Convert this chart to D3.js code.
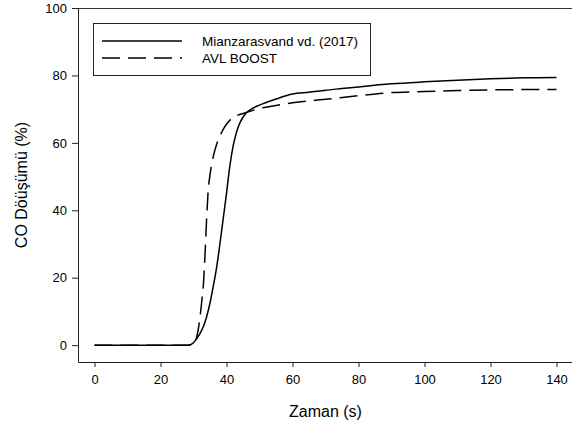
<!DOCTYPE html>
<meta charset='utf-8'>
<style>
	body { margin: 0; background: #fff; }
	#container { width: 572px; height: 428px; }
	text { font-family: 'Liberation Sans', Arial, sans-serif; fill: #000; }
</style>
<body>
	<div id='container'>
	</div>
<script src='https://d3js.org/d3.v7.min.js'></script>
<script>
	// Zaman (s)
	const mianTime = [ 0, 28.5, 30, 31, 32, 33, 34, 35, 36, 37, 38, 39, 40, 41, 42, 43, 44, 45, 46, 48, 50, 55, 60, 65, 70, 75, 80, 90, 100, 110, 120, 130, 140 ];
	// CO conversion (%)
	const mianValue = [ 0, 0, 0.7, 2, 3.5, 5.5, 8.5, 12.5, 17.5, 23, 30, 37.5, 45, 53, 59, 63, 65.8, 67.6, 68.9, 70.3, 71.2, 73, 74.5, 75, 75.6, 76.1, 76.6, 77.5, 78.1, 78.6, 79, 79.3, 79.4 ];

	const avlTime = [ 0, 28.5, 30, 31, 32, 32.5, 33, 33.5, 34, 34.5, 35, 36, 37, 38, 39, 40, 42, 44, 46, 50, 55, 60, 70, 80, 90, 100, 110, 120, 130, 140 ];
	const avlValue = [ 0, 0, 0.3, 2.5, 8.5, 13, 18, 27, 38, 46.5, 50.5, 56, 59.5, 62, 64, 65.5, 67.6, 68.4, 69, 70.2, 71.1, 71.9, 72.9, 74, 74.9, 75.2, 75.5, 75.7, 75.8, 75.8 ];

	const seriesNames = [ 'Mianzarasvand vd. (2017)', 'AVL BOOST' ];
	const xTicks = [ 0, 20, 40, 60, 80, 100, 120, 140 ];
	const yTicks = [ 0, 20, 40, 60, 80, 100 ];

	const W = 572, H = 428;
	const plot = { left: 78, right: 573, top: 8, bottom: 362 };

	let xScale = d3.scaleLinear()
		.domain( [-5, 145] )
		.range( [plot.left, plot.right] );
	let yScale = d3.scaleLinear()
		.domain( [-5, 100] )
		.range( [plot.bottom, plot.top] );

	let svg = d3.select( '#container' )
		.append( 'svg' )
		.attr( 'width', W )
		.attr( 'height', H );

	// frame top line
	svg.append( 'line' )
		.attr( 'x1', plot.left ).attr( 'x2', plot.right )
		.attr( 'y1', plot.top + 0.5 ).attr( 'y2', plot.top + 0.5 )
		.style( 'stroke', '#333' )
		.style( 'stroke-width', 1 );

	let xAxis = d3.axisBottom( xScale )
		.tickValues( xTicks )
		.tickSize( 5 )
		.tickPadding( 8 )
		.tickSizeOuter( 0 );
	let yAxis = d3.axisLeft( yScale )
		.tickValues( yTicks )
		.tickSize( 6 )
		.tickPadding( 5 )
		.tickSizeOuter( 0 );

	let xAxisEl = svg.append( 'g' )
		.attr( 'transform', `translate( 0, ${plot.bottom} )` )
		.call( xAxis );
	let yAxisEl = svg.append( 'g' )
		.attr( 'transform', `translate( ${plot.left}, 0 )` )
		.call( yAxis );

	[ xAxisEl, yAxisEl ].forEach( el => {
		el.selectAll( 'path, line' ).style( 'stroke', '#222' );
		el.selectAll( 'text' )
			.style( 'font-size', '13px' )
			.style( 'font-family', "'Liberation Sans', Arial, sans-serif" )
			.style( 'fill', '#000' );
	} );

	// axis titles
	svg.append( 'text' )
		.attr( 'x', ( plot.left + plot.right ) / 2 )
		.attr( 'y', 417 )
		.attr( 'text-anchor', 'middle' )
		.style( 'font-size', '16px' )
		.text( 'Zaman (s)' );

	svg.append( 'text' )
		.attr( 'transform', `translate( 27, ${( plot.top + plot.bottom ) / 2} ) rotate( -90 )` )
		.attr( 'text-anchor', 'middle' )
		.style( 'font-size', '16px' )
		.text( 'CO Döüşümü (%)' );

	// lines
	let lineData = [
		{ name: seriesNames[0], time: mianTime, value: mianValue, dash: null },
		{ name: seriesNames[1], time: avlTime, value: avlValue, dash: '18,8' },
	];

	let coLine = d3.line()
		.curve( d3.curveMonotoneX )
		.x( d => xScale( d[0] ) )
		.y( d => yScale( d[1] ) );

	svg.append( 'g' )
		.selectAll( '.line' )
		.data( lineData )
		.enter().append( 'path' )
			.attr( 'class', 'line' )
			.attr( 'd', d => coLine( d.time.map( ( t, i ) => [ t, d.value[i] ] ) ) )
			.style( 'fill', 'none' )
			.style( 'stroke', '#000' )
			.style( 'stroke-width', 1.5 )
			.style( 'stroke-dasharray', d => d.dash );

	// Legend
	let legendBox = svg.append( 'g' )
		.attr( 'transform', 'translate( 93, 23 )' );

	legendBox.append( 'rect' )
		.attr( 'x', 0.5 ).attr( 'y', 0.5 )
		.attr( 'width', 277 )
		.attr( 'height', 52 )
		.style( 'fill', '#fff' )
		.style( 'stroke', '#222' )
		.style( 'stroke-width', 1 );

	let legend = legendBox.selectAll( '.legend' )
		.data( lineData )
		.enter().append( 'g' )
			.attr( 'class', 'legend' )
			.attr( 'transform', ( d, i ) => `translate( 0, ${18 + i * 17} )` );

	legend.append( 'line' )
		.attr( 'x1', 9 ).attr( 'x2', 89 )
		.style( 'stroke', '#000' )
		.style( 'stroke-width', 1.5 )
		.style( 'stroke-dasharray', d => d.dash );

	legend.append( 'text' )
		.attr( 'x', 109 )
		.attr( 'dy', '.35em' )
		.style( 'font-size', '13.5px' )
		.text( d => d.name );
</script>
</body>
